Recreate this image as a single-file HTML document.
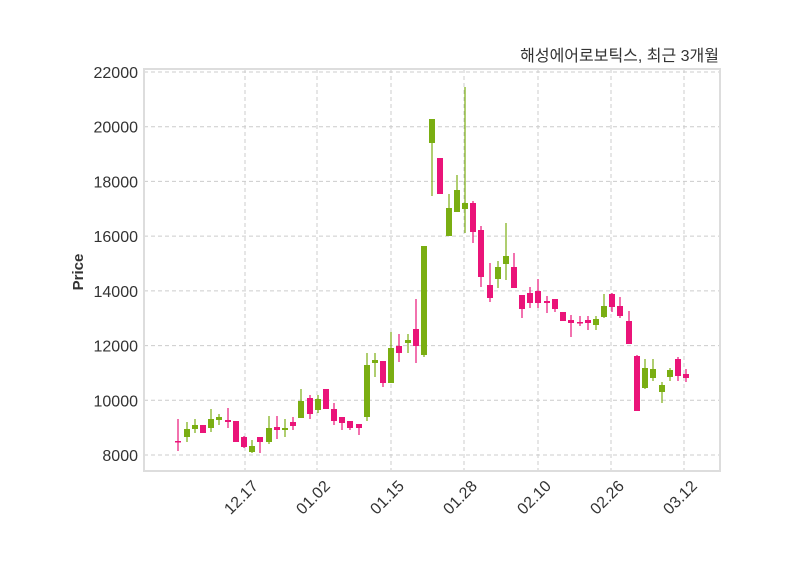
<!DOCTYPE html>
<html><head><meta charset="utf-8"><style>
html,body{margin:0;padding:0;background:#fff;width:800px;height:575px;overflow:hidden}
svg text{font-family:"Liberation Sans","Noto Sans CJK KR",sans-serif}
</style></head><body>
<svg id="s" width="800" height="575" viewBox="0 0 800 575" xmlns="http://www.w3.org/2000/svg">
<rect width="800" height="575" fill="#fff"/>
<g id="grid" stroke="#cccccc" stroke-width="1" stroke-dasharray="4,3"></g>
<g id="c"></g>
<rect x="144" y="69" width="576" height="402" fill="none" stroke="#dddddd" stroke-width="2"/>
<g id="lab" font-size="16" fill="#333"></g>
<text x="83" y="272" font-size="15" font-weight="bold" fill="#333" text-anchor="middle" transform="rotate(-90 83 272)">Price</text>
<text x="719" y="61" font-size="16" fill="#333" text-anchor="end">해성에어로보틱스, 최근 3개월</text>
</svg>
<script>
var ns="http://www.w3.org/2000/svg";
function el(p,t,a,txt){var e=document.createElementNS(ns,t);for(var k in a)e.setAttribute(k,a[k]);if(txt)e.textContent=txt;p.appendChild(e);}
var g=document.getElementById('grid'),l=document.getElementById('lab'),c=document.getElementById('c');
var yv=[22000,20000,18000,16000,14000,12000,10000,8000];
yv.forEach(function(v){var y=455-(v-8000)*0.027357;el(g,'line',{x1:144,x2:720,y1:y,y2:y});el(l,'text',{x:138,y:y+6,'text-anchor':'end'},String(v));});
var xs=[[245,'12.17'],[317,'01.02'],[391,'01.15'],[464,'01.28'],[538,'02.10'],[611,'02.26'],[684,'03.12']];
xs.forEach(function(a){var x=a[0]+14,y=487;el(g,'line',{x1:a[0],x2:a[0],y1:69,y2:471});el(l,'text',{x:x,y:y,'text-anchor':'end',transform:'rotate(-45 '+x+' '+y+')'},a[1]);});
var G='#7aae12',P='#ea1479';
var d=[
[178,419,441,442,451,P],[187,422,429,437,442,G],[195,419,425,429,433,G],[203,425,425,433,433,P],
[211,409,419,428,432,G],[219,414,417,420,425,G],[228,408,420,422,428,P],[236,421,421,442,442,P],
[244,436,437,447,448,P],[252,440,446,452,453,G],[260,437,437,442,453,P],[269,416,428,442,444,G],
[277,416,427,430,439,P],[285,419,428,430,437,G],[293,417,422,426,430,P],[301,389,401,418,418,G],
[310,395,398,414,419,P],[318,395,399,410,413,G],[326,389,389,409,409,P],[334,403,409,421,425,P],
[342,417,417,423,430,P],[350,421,421,428,430,P],[359,424,424,428,435,P],[367,353,365,417,421,G],
[375,353,360,363,377,G],[383,361,361,383,387,P],[391,332,348,383,383,G],[399,334,346,353,362,P],
[408,334,340,343,353,G],[416,299,329,346,363,P],[424,246,246,355,357,G],[432,119,119,143,196,G],
[440,158,158,194,194,P],[449,194,208,236,236,G],[457,175,190,212,212,G],[465,87,203,209,233,G],
[473,201,203,232,243,P],[481,226,230,277,287,P],[490,263,285,298,302,P],[498,261,267,279,288,G],
[506,223,256,264,280,G],[514,253,267,288,288,P],[522,295,295,309,318,P],[530,287,293,303,308,P],
[538,279,291,303,308,P],[547,296,301,303,313,P],[555,299,299,309,312,P],[563,312,312,321,321,P],
[571,315,320,323,337,P],[580,316,322,323,326,P],[588,316,320,323,330,P],[596,316,319,325,330,G],
[604,294,306,317,318,G],[612,293,294,307,312,P],[620,297,306,316,318,P],[629,311,321,344,344,P],
[637,355,356,411,411,P],[645,359,368,388,389,G],[653,359,369,378,381,G],[662,382,385,392,403,G],
[670,368,370,377,381,G],[678,357,359,376,381,P],[686,369,374,378,382,P]];
d.forEach(function(k){el(c,'line',{x1:k[0],x2:k[0],y1:k[1],y2:k[4],stroke:k[5],'stroke-width':1.2});
el(c,'rect',{x:k[0]-3,y:k[2],width:6,height:Math.max(1.5,k[3]-k[2]),fill:k[5]});});
</script>
</body></html>
